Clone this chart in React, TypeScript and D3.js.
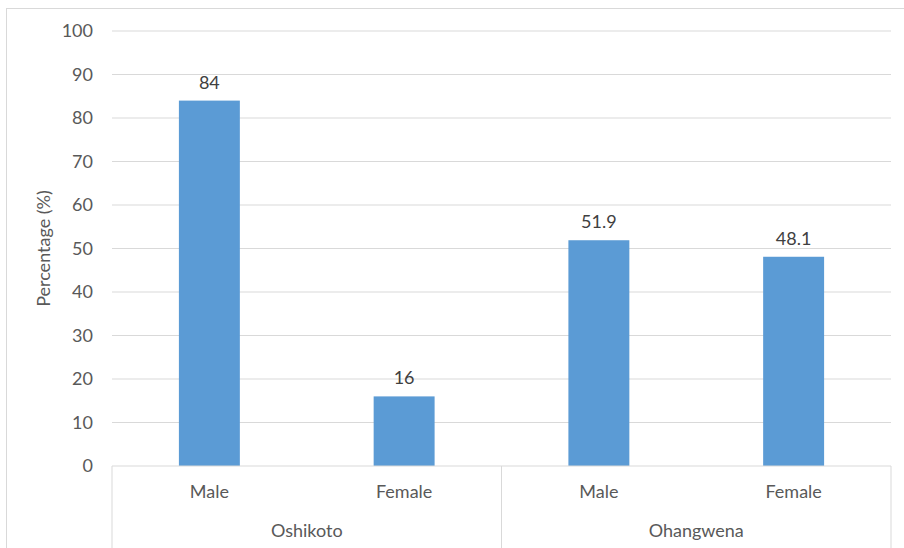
import React from "react";
import * as d3 from "d3";

const subCategories = ["Male", "Female", "Male", "Female"];
const groups = ["Oshikoto", "Ohangwena"];
const values = [84, 16, 51.9, 48.1];
const valueLabels = ["84", "16", "51.9", "48.1"];
const yTicks = [0, 10, 20, 30, 40, 50, 60, 70, 80, 90, 100];

const W = 904, H = 548;
const left = 112, right = 891, top = 31, bottom = 466;
const font = "Lato, 'Open Sans', sans-serif";
const fs = 18;

export default function App() {
  const y = d3.scaleLinear().domain([0, 100]).range([bottom, top]);
  const x = d3.scaleBand<number>().domain(d3.range(values.length)).range([left, right]).paddingInner(0.687).paddingOuter(0.3435);
  const grp = d3.scaleBand<number>().domain(d3.range(groups.length)).range([left, right]);
  const text = "#595959";
  const grid = "#d9d9d9";
  return (
    <div style={{ position: "absolute", left: 0, top: 0 }}>
      <svg width={W} height={H} style={{ display: "block" }}>
        <rect x={0} y={0} width={W} height={H} fill="#fff" />
        <rect x={6.5} y={8.5} width={W} height={H} fill="none" stroke={grid} strokeWidth={1} />
        {yTicks.map((t) => (
          <g key={t}>
            {t > 0 && <line x1={left} x2={right} y1={y(t)} y2={y(t)} stroke={grid} strokeWidth={1} />}
            <text x={93} y={y(t)} dy="0.35em" textAnchor="end" fontSize={fs} fill={text} fontFamily={font}>{t}</text>
          </g>
        ))}
        {values.map((v, i) => (
          <g key={i}>
            <rect x={x(i)} y={y(v)} width={x.bandwidth()} height={bottom - y(v)} fill="#5b9bd5" />
            <text x={x(i)! + x.bandwidth() / 2} y={y(v) - 12} textAnchor="middle" fontSize={fs} fill="#404040" fontFamily={font}>{valueLabels[i]}</text>
            <text x={x(i)! + x.bandwidth() / 2} y={492} dy="0.35em" textAnchor="middle" fontSize={fs} fill={text} fontFamily={font}>{subCategories[i]}</text>
          </g>
        ))}
        <line x1={left} x2={right} y1={bottom} y2={bottom} stroke={grid} strokeWidth={1} />
        {[0, 1, 2].map((k) => {
          const xx = k < 2 ? grp(k)! : right;
          return <line key={k} x1={xx} x2={xx} y1={bottom} y2={H} stroke={grid} strokeWidth={1} />;
        })}
        {groups.map((g, i) => (
          <text key={g} x={grp(i)! + grp.bandwidth() / 2} y={531} dy="0.35em" textAnchor="middle" fontSize={fs} fill={text} fontFamily={font}>{g}</text>
        ))}
        <text transform={`translate(50,${(top + bottom) / 2}) rotate(-90)`} textAnchor="middle" fontSize={fs} fill={text} fontFamily={font}>Percentage (%)</text>
      </svg>
    </div>
  );
}
